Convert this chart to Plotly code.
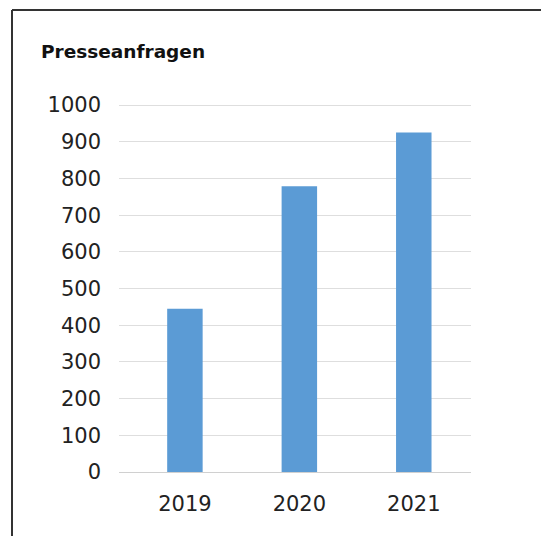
import plotly.graph_objects as go

years = ["2019", "2020", "2021"]
requests = [445, 779, 925]
y_ticks = [0, 100, 200, 300, 400, 500, 600, 700, 800, 900, 1000]
title_text = "Presseanfragen"

W, H = 541, 536
L, R, T, B = 119, 70, 104, 64
pw = W - L - R
ph = H - T - B

fig = go.Figure(
    go.Bar(
        x=years,
        y=requests,
        marker=dict(color="#5b9bd5", line=dict(width=0)),
        width=0.31,
    )
)


def px_x(p):
    return (p - L) / pw


def px_y(p):
    return (H - B - p) / ph


border = dict(color="#333333", width=2)
fig.add_shape(type="line", xref="paper", yref="paper",
              x0=px_x(12), x1=px_x(541), y0=px_y(10), y1=px_y(10), line=border)
fig.add_shape(type="line", xref="paper", yref="paper",
              x0=px_x(12), x1=px_x(12), y0=px_y(10), y1=px_y(536), line=border)

fig.update_layout(
    width=W,
    height=H,
    margin=dict(l=L, r=R, t=T, b=B, pad=0),
    paper_bgcolor="white",
    plot_bgcolor="white",
    showlegend=False,
    font=dict(family="DejaVu Sans", size=21, color="#222222"),
    title=dict(
        text="<b>" + title_text + "</b>",
        xref="container", yref="container",
        x=41 / W, xanchor="left",
        y=1 - 52 / H, yanchor="middle",
        font=dict(family="DejaVu Sans", size=18.5, color="#111111"),
    ),
    xaxis=dict(
        type="category",
        range=[-0.576, 2.5],
        showgrid=False,
        showline=False,
        zeroline=False,
        ticks="",
        ticklabelstandoff=17,
        tickfont=dict(size=21),
    ),
    yaxis=dict(
        range=[0, 1003],
        tickvals=y_ticks,
        showgrid=True,
        gridcolor="#dedede",
        gridwidth=1,
        zeroline=True,
        zerolinecolor="#d0d0d0",
        zerolinewidth=1,
        showline=False,
        ticks="",
        ticklabelstandoff=17,
        tickfont=dict(size=21),
    ),
)

fig.write_html("out.html")
